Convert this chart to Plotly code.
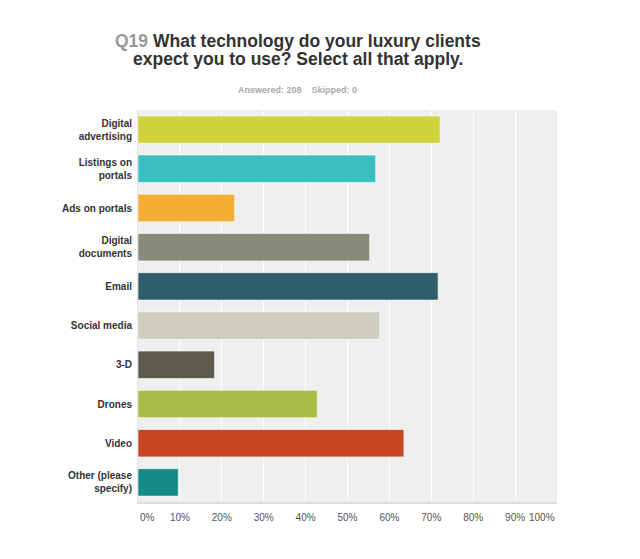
import plotly.graph_objects as go

# answers to Q19, share of the 208 respondents
categories = ["Digital<br>advertising", "Listings on<br>portals", "Ads on portals",
              "Digital<br>documents", "Email", "Social media", "3-D", "Drones",
              "Video", "Other (please<br>specify)"]
percent = [72.12, 56.73, 23.08, 55.29, 71.63, 57.69, 18.27, 42.79, 63.46, 9.62]
colors = ["#d0d33b", "#3cbfc1", "#f5ae35", "#888a7a", "#2f5e6a",
          "#cfcdc0", "#5c5a4c", "#a8bd46", "#c84624", "#168a86"]
tick_vals = [0, 10, 20, 30, 40, 50, 60, 70, 80, 90, 100]
tick_text = ["", "10%", "20%", "30%", "40%", "50%", "60%", "70%", "80%", "90%", ""]

fig = go.Figure(go.Bar(x=percent, y=categories, orientation="h",
                       marker=dict(color=colors, line=dict(color="rgba(255,255,255,0.6)", width=1)),
                       width=0.7))

# page body has an 8px margin, so left/top are 8px smaller
fig.update_layout(
    width=640, height=559,
    margin=dict(l=130, r=91, t=102, b=65),
    paper_bgcolor="white",
    plot_bgcolor="#efefef",
    showlegend=False,
    font=dict(family="Liberation Sans, Arial", color="#333"),
)

fig.update_xaxes(range=[0, 100], tickvals=tick_vals, ticktext=tick_text,
                 showgrid=True, gridcolor="white", gridwidth=1, automargin=False,
                 zeroline=False, showline=True, linecolor="#dcdcdc", linewidth=2,
                 ticks="", tickfont=dict(size=10, color="#555"), ticklabelstandoff=5)
fig.update_yaxes(autorange="reversed", showgrid=False, ticks="", automargin=False,
                 showline=True, linecolor="#e4e4e4", linewidth=1,
                 tickvals=categories, ticktext=["<b>" + c + "</b>" for c in categories],
                 tickfont=dict(size=10, color="#333"), ticklabelstandoff=3)

# title, two lines set a bit tighter than plotly's default line height
fig.add_annotation(text="<b><span style='color:#999'>Q19</span> What technology do your luxury clients</b>",
                   xref="paper", x=0.381, yref="paper", y=1.177, yanchor="middle",
                   showarrow=False, font=dict(size=17.5, color="#333"))
fig.add_annotation(text="<b>expect you to use? Select all that apply.</b>",
                   xref="paper", x=0.383, yref="paper", y=1.129, yanchor="middle",
                   showarrow=False, font=dict(size=17.5, color="#333"))
fig.add_annotation(text="<b>Answered: 208&nbsp;&nbsp;&nbsp;&nbsp;Skipped: 0</b>",
                   xref="paper", x=0.381, yref="paper", y=1.051, yanchor="middle",
                   showarrow=False, font=dict(size=9, color="#aaa"))

# end labels kept inside the axis
fig.add_annotation(text="0%", x=0, xanchor="left", yref="paper", y=-0.04, yanchor="middle",
                   showarrow=False, font=dict(size=10, color="#555"))
fig.add_annotation(text="100%", x=100, xanchor="right", yref="paper", y=-0.04, yanchor="middle",
                   showarrow=False, font=dict(size=10, color="#555"))

fig.write_html("out.html")
